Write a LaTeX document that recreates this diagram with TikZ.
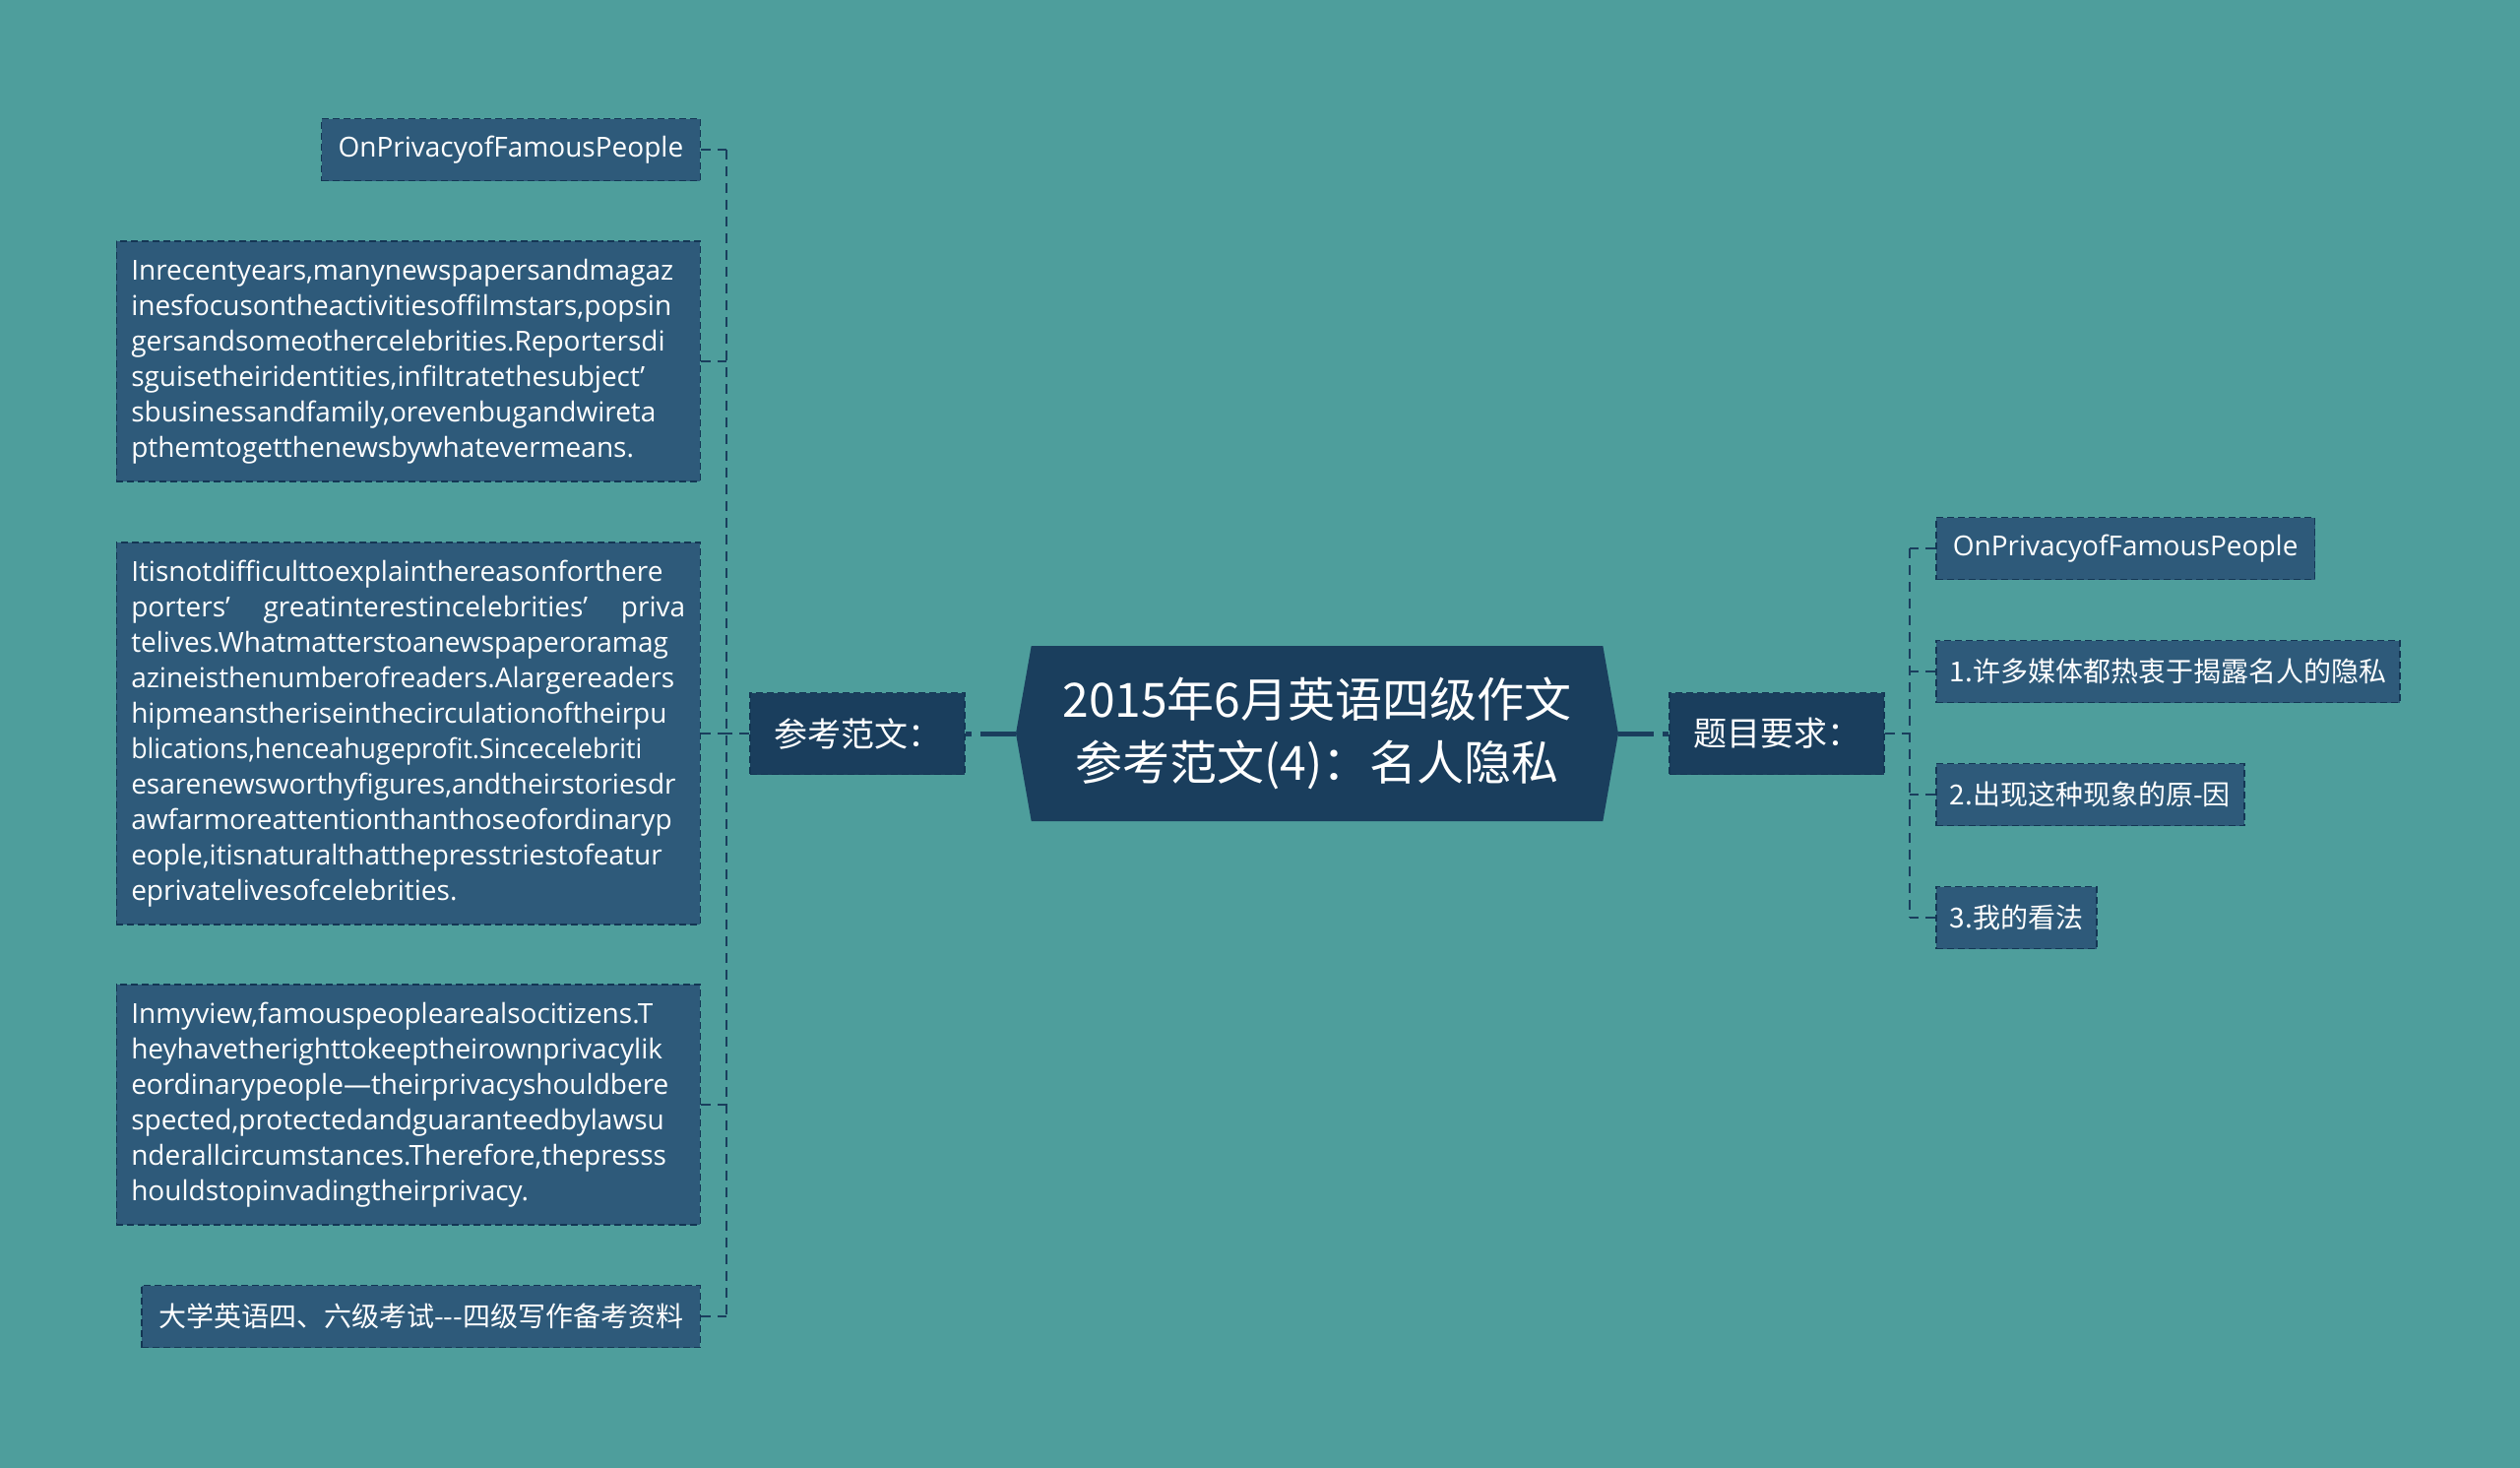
\documentclass[tikz,border=0pt]{standalone}
\usepackage{fontspec}
\setmainfont{Open Sans}
\newfontfamily\cjk{Noto Sans CJK SC}
\usepackage{tikz}
\usetikzlibrary{shapes.symbols}
\definecolor{bg}{RGB}{78,158,156}
\definecolor{navy}{RGB}{26,62,93}
\definecolor{leaf}{RGB}{46,90,122}
\definecolor{edge}{RGB}{20,54,84}

\begin{document}
\begin{tikzpicture}[x=1pt,y=-1pt,
	root/.style={signal, signal to=east and west, signal pointer angle=160, fill=navy, text=white, minimum width=612pt, minimum height=178pt, inner sep=0pt, align=center, font=\cjk\fontsize{48}{64}\selectfont},
	topic/.style={draw=edge, line width=1.5pt, dash pattern=on 7pt off 4pt, fill=navy, text=white, minimum width=218pt, minimum height=83pt, font=\cjk\fontsize{34}{40}\selectfont},
	sub/.style={draw=edge, line width=1.5pt, dash pattern=on 7pt off 4pt, fill=leaf, text=white, inner xsep=14pt, minimum height=63pt, font=\cjk\fontsize{28}{36}\selectfont},
	word/.style={sub, inner xsep=17pt, font=\fontsize{28}{36}\selectfont},
	para/.style={sub, text width=563pt, align=left, inner xsep=15pt, inner ysep=18pt, font=\fontsize{28}{36}\selectfont},
	trunk/.style={draw=navy, line width=5pt, dash pattern=on 36pt off 9pt},
	twig/.style={draw=navy, line width=2pt, dash pattern=on 10pt off 7pt}]
\fill[bg] (0,0) rectangle (2560,1491);
\useasboundingbox (0,0) rectangle (2560,1491);

% centre and the two branches
\node [root] (root) at (1338,745) {2015年6月英语四级作文\\参考范文(4)：名人隐私};
\node [topic] (ref) at (871,745) {参考范文：};
\node [topic] (req) at (1805,745) {题目要求：};

% left side
\node [word, anchor=east] (l1) at (712,152) {OnPrivacyofFamousPeople};
\node [para, anchor=east] (l2) at (712,367) {Inrecentyears,manynewspapersandmagaz\\
	inesfocusontheactivitiesoffilmstars,popsin\\
	gersandsomeothercelebrities.Reportersdi\\
	sguisetheiridentities,infiltratethesubject’\\
	sbusinessandfamily,orevenbugandwireta\\
	pthemtogetthenewsbywhatevermeans.};
\node [para, anchor=east] (l3) at (712,745) {Itisnotdifficulttoexplainthereasonforthere\\
	porters’\hfill greatinterestincelebrities’\hfill priva\\
	telives.Whatmatterstoanewspaperoramag\\
	azineisthenumberofreaders.Alargereaders\\
	hipmeanstheriseinthecirculationoftheirpu\\
	\scalebox{0.955}[1]{blications,henceahugeprofit.Sincecelebriti}\\
	esarenewsworthyfigures,andtheirstoriesdr\\
	awfarmoreattentionthanthoseofordinaryp\\
	eople,itisnaturalthatthepresstriestofeatur\\
	eprivatelivesofcelebrities.};
\node [para, anchor=east] (l4) at (712,1122) {Inmyview,famouspeoplearealsocitizens.T\\
	heyhavetherighttokeeptheirownprivacylik\\
	eordinarypeople—theirprivacyshouldbere\\
	spected,protectedandguaranteedbylawsu\\
	nderallcircumstances.Therefore,thepresss\\
	houldstopinvadingtheirprivacy.};
\node [sub, anchor=east, inner xsep=17pt] (l5) at (712,1337) {大学英语四、六级考试---四级写作备考资料};

% right side
\node [word, anchor=west] (r1) at (1966,557) {OnPrivacyofFamousPeople};
\node [sub, anchor=west] (r2) at (1966,682) {1.许多媒体都热衷于揭露名人的隐私};
\node [sub, anchor=west] (r3) at (1966,807) {2.出现这种现象的原-因};
\node [sub, anchor=west] (r4) at (1966,932) {3.我的看法};

% connectors
\coordinate (lbus) at (738,745);
\coordinate (rbus) at (1940,745);
\draw [trunk] (root.west) -- (ref.east);
\draw [trunk] (root.east) -- (req.west);
\draw [twig] (ref.west) -- (lbus);
\draw [twig] (lbus |- l1.east) -- (lbus |- l5.east);
\foreach \n in {l1,l2,l3,l4,l5}
	\draw [twig] (\n.east) -- (lbus |- \n.east);
\draw [twig] (req.east) -- (rbus);
\draw [twig] (rbus |- r1.west) -- (rbus |- r4.west);
\foreach \n in {r1,r2,r3,r4}
	\draw [twig] (\n.west) -- (rbus |- \n.west);
\end{tikzpicture}
\end{document}
